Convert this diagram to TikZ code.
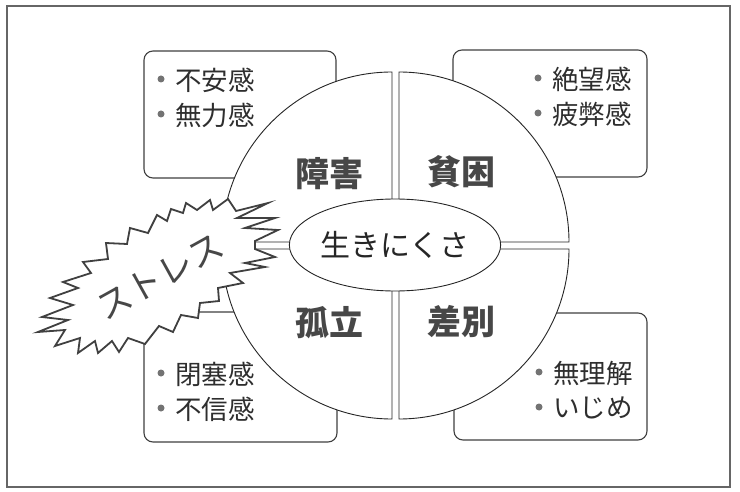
\documentclass[tikz,border=0pt]{standalone}
\usepackage{fontspec}
\newfontfamily\cjk{Noto Sans CJK JP}
\usetikzlibrary{shapes.geometric}
\tikzset{
  frame/.style={draw=black!60, line width=1.5pt},
  itembox/.style={draw=black!75, line width=1.1pt, rounded corners=9pt, fill=white, inner sep=0},
  quad/.style={draw=black!85, line width=0.9pt, fill=white},
  core/.style={ellipse, draw=black!85, line width=0.9pt, fill=white, minimum width=204pt, minimum height=92pt, inner sep=0, text=black!85, font=\cjk\fontsize{30}{30}\selectfont},
  burst/.style={draw=black!75, line width=1.8pt, fill=white, line join=miter, miter limit=20},
  item/.style={anchor=west, inner sep=0, text=black!82, font=\cjk\fontsize{26.5}{26.5}\selectfont},
  dot/.style={circle, fill=black!55, minimum size=7pt, inner sep=0},
  qlabel/.style={font=\cjk\bfseries\fontsize{34}{34}\selectfont, text=black!72, inner sep=0},
  stresslabel/.style={font=\cjk\fontsize{35}{35}\selectfont, text=black!72, inner sep=0, rotate=29},
}
\begin{document}
\begin{tikzpicture}[x=1pt, y=-1pt]
\useasboundingbox[fill=white] (0,0) rectangle (740,492);
\draw[frame] (7,6) rectangle (730,487);
% item boxes
\node[itembox, minimum width=192pt, minimum height=127pt] (b1) at (240,114.5) {};
\node[itembox, minimum width=194pt, minimum height=127pt] (b2) at (550,113.5) {};
\node[itembox, minimum width=193pt, minimum height=130pt] (b3) at (240.5,377) {};
\node[itembox, minimum width=193pt, minimum height=127pt] (b4) at (550.5,376.5) {};
% quadrants
\draw[quad] (399,242) -- (569,242) arc[start angle=0, end angle=-90, radius=170] -- cycle;
\draw[quad] (392,242) -- (392,72) arc[start angle=-90, end angle=-180, radius=170] -- cycle;
\draw[quad] (392,249) -- (222,249) arc[start angle=180, end angle=90, radius=170] -- cycle;
\draw[quad] (399,249) -- (399,419) arc[start angle=90, end angle=0, radius=170] -- cycle;
% centre
\node[core] (core) at (395,245) {生きにくさ};
% quadrant labels
\node[qlabel] (q1) at (329,174) {障害};
\node[qlabel] (q2) at (461,172) {貧困};
\node[qlabel] (q3) at (329,323) {孤立};
\node[qlabel] (q4) at (461,322) {差別};
% box items
\node[dot] (d11) at (161,79) {};
\node[item] (t11) at (175,80) {不安感};
\node[dot] (d12) at (161,114) {};
\node[item] (t12) at (175,115) {無力感};
\node[dot] (d21) at (538,78) {};
\node[item] (t21) at (552,79) {絶望感};
\node[dot] (d22) at (538,113) {};
\node[item] (t22) at (552,114) {疲弊感};
\node[dot] (d31) at (161,373) {};
\node[item] (t31) at (175,374) {閉塞感};
\node[dot] (d32) at (161,408) {};
\node[item] (t32) at (175,409) {不信感};
\node[dot] (d41) at (539,372) {};
\node[item] (t41) at (553,373) {無理解};
\node[dot] (d42) at (539,407) {};
\node[item] (t42) at (553,408) {いじめ};
% starburst
\draw[burst] (38,332) -- (68,320) -- (42,317) -- (73,305) -- (50,298) -- (78,288) -- (63,282) -- (91,273) -- (83,262) -- (108,259) -- (106,243) -- (127,244) -- (130,228) -- (148,233) -- (157,215) -- (167,221) -- (171,209) -- (183,213) -- (186,203) -- (197,210) -- (210,200) -- (213,210) -- (228,199) -- (236,211) -- (268,203) -- (237,218) -- (275,218) -- (245,228) -- (278,230) -- (255,241) -- (255,249) -- (275,257) -- (245,263) -- (265,267) -- (230,273) -- (243,283) -- (218,288) -- (219,301) -- (200,303) -- (198,318) -- (181,315) -- (173,332) -- (159,326) -- (145,344) -- (128,338) -- (119,352) -- (112,341) -- (98,353) -- (95,341) -- (78,353) -- (80,338) -- (55,346) -- (65,330) -- cycle;
\node[stresslabel] (stress) at (160,276) {ストレス};
\end{tikzpicture}
\end{document}
